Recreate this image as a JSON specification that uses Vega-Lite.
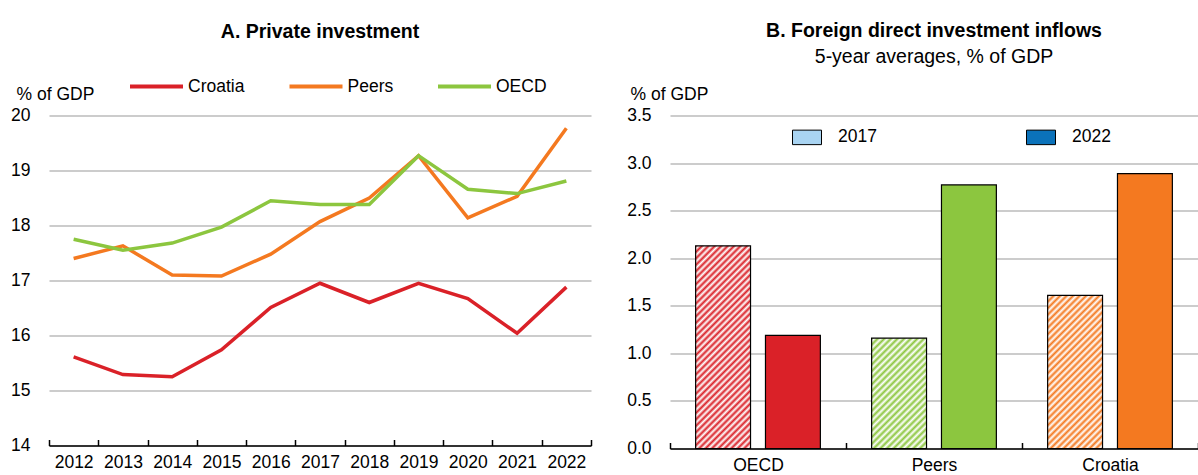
{
 "$schema": "https://vega.github.io/schema/vega-lite/v6.json",
 "padding": {"left": 10, "top": 20.5, "right": 0, "bottom": 0},
 "background": "#ffffff",
 "config": {
  "font": "Liberation Sans, Arial, sans-serif",
  "view": {"stroke": null},
  "axis": {"labelFontSize": 17.5, "labelColor": "#000000", "titleFontSize": 17.5, "titleFontWeight": "normal", "titleColor": "#000000", "gridColor": "#cccccc", "gridWidth": 2},
  "legend": {"labelFontSize": 17.5, "labelColor": "#000000", "padding": 0},
  "title": {"fontSize": 19.5, "fontWeight": "bold", "color": "#000000", "subtitleFontSize": 19.5, "subtitleColor": "#000000", "subtitleFontWeight": "normal", "anchor": "middle", "frame": "group"}
 },
 "resolve": {"scale": {"color": "independent"}, "legend": {"color": "independent"}},
 "bounds": "flush",
 "spacing": 79,
 "hconcat": [
  {
   "width": 542,
   "height": 330,
   "title": {"text": "A. Private investment", "offset": 16},
   "data": {"values": [
    {"year": 2012, "series": "Croatia", "value": 15.61},
    {"year": 2013, "series": "Croatia", "value": 15.29},
    {"year": 2014, "series": "Croatia", "value": 15.25},
    {"year": 2015, "series": "Croatia", "value": 15.74},
    {"year": 2016, "series": "Croatia", "value": 16.51},
    {"year": 2017, "series": "Croatia", "value": 16.95},
    {"year": 2018, "series": "Croatia", "value": 16.6},
    {"year": 2019, "series": "Croatia", "value": 16.95},
    {"year": 2020, "series": "Croatia", "value": 16.67},
    {"year": 2021, "series": "Croatia", "value": 16.04},
    {"year": 2022, "series": "Croatia", "value": 16.88},
    {"year": 2012, "series": "Peers", "value": 17.4},
    {"year": 2013, "series": "Peers", "value": 17.63},
    {"year": 2014, "series": "Peers", "value": 17.1},
    {"year": 2015, "series": "Peers", "value": 17.08},
    {"year": 2016, "series": "Peers", "value": 17.48},
    {"year": 2017, "series": "Peers", "value": 18.07},
    {"year": 2018, "series": "Peers", "value": 18.5},
    {"year": 2019, "series": "Peers", "value": 19.27},
    {"year": 2020, "series": "Peers", "value": 18.14},
    {"year": 2021, "series": "Peers", "value": 18.53},
    {"year": 2022, "series": "Peers", "value": 19.77},
    {"year": 2012, "series": "OECD", "value": 17.75},
    {"year": 2013, "series": "OECD", "value": 17.55},
    {"year": 2014, "series": "OECD", "value": 17.68},
    {"year": 2015, "series": "OECD", "value": 17.97},
    {"year": 2016, "series": "OECD", "value": 18.45},
    {"year": 2017, "series": "OECD", "value": 18.38},
    {"year": 2018, "series": "OECD", "value": 18.38},
    {"year": 2019, "series": "OECD", "value": 19.27},
    {"year": 2020, "series": "OECD", "value": 18.66},
    {"year": 2021, "series": "OECD", "value": 18.58},
    {"year": 2022, "series": "OECD", "value": 18.81}
   ]},
   "mark": {"type": "line", "strokeWidth": 3.5},
   "encoding": {
    "x": {"field": "year", "type": "ordinal", "scale": {"paddingInner": 0, "paddingOuter": 0},
     "axis": {"title": null, "tickBand": "extent", "labelAngle": 0, "labelOverlap": false, "grid": false, "domainColor": "#000000", "domainWidth": 1.5, "tickColor": "#000000", "tickWidth": 1.5, "tickSize": -6, "labelPadding": 14}},
    "y": {"field": "value", "type": "quantitative", "scale": {"domain": [14, 20], "nice": false, "zero": false},
     "axis": {"title": "% of GDP", "titleAngle": 0, "titleAlign": "left", "titleBaseline": "alphabetic", "titleX": -33, "titleY": -16, "values": [14, 15, 16, 17, 18, 19, 20], "domain": false, "ticks": false, "labelPadding": 19}},
    "color": {"field": "series", "type": "nominal", "sort": ["Croatia", "Peers", "OECD"],
     "scale": {"domain": ["Croatia", "Peers", "OECD"], "range": ["#DA2128", "#F47920", "#8CC63F"]},
     "legend": {"orient": "none", "legendX": 79, "legendY": -57.5, "direction": "horizontal", "title": null, "symbolType": "stroke", "symbolSize": 2809, "symbolStrokeWidth": 4, "labelOffset": 3, "columnPadding": 36.5}}
   }
  },
  {
   "width": 528,
   "height": 333,
   "title": {"text": "B. Foreign direct investment inflows", "subtitle": "5-year averages, % of GDP", "offset": 18, "subtitlePadding": 6.5},
   "data": {"values": [
    {"country": "OECD", "year": "2017", "value": 2.13},
    {"country": "OECD", "year": "2022", "value": 1.19},
    {"country": "Peers", "year": "2017", "value": 1.16},
    {"country": "Peers", "year": "2022", "value": 2.77},
    {"country": "Croatia", "year": "2017", "value": 1.61},
    {"country": "Croatia", "year": "2022", "value": 2.89}
   ]},
   "encoding": {
    "x": {"field": "country", "type": "nominal", "sort": ["OECD", "Peers", "Croatia"], "scale": {"domain": ["OECD", "Peers", "Croatia"], "paddingInner": 0, "paddingOuter": 0},
     "axis": {"title": null, "tickBand": "extent", "labelAngle": 0, "grid": false, "domainColor": "#000000", "domainWidth": 1.5, "tickColor": "#000000", "tickWidth": 1.5, "tickSize": -6, "labelPadding": 14}},
    "xOffset": {"field": "year", "type": "nominal", "sort": ["2017", "2022"], "scale": {"domain": ["2017", "2022"], "paddingInner": 0.214, "paddingOuter": 0.367}},
    "y": {"field": "value", "type": "quantitative", "scale": {"domain": [0, 3.5], "nice": false},
     "axis": {"title": "% of GDP", "titleAngle": 0, "titleAlign": "left", "titleBaseline": "alphabetic", "titleX": -40, "titleY": -16, "values": [0, 0.5, 1, 1.5, 2, 2.5, 3, 3.5], "format": ".1f", "domain": false, "ticks": false, "labelPadding": 19}}
   },
   "layer": [
    {
     "transform": [{"filter": "datum.year == '2022'"}],
     "mark": {"type": "bar", "stroke": "#000000", "strokeWidth": 1.2},
     "encoding": {"fill": {"field": "country", "type": "nominal", "scale": {"domain": ["OECD", "Peers", "Croatia"], "range": ["#DA2128", "#8CC63F", "#F47920"]}, "legend": null}}
    },
    {
     "transform": [{"filter": "datum.year == '2017' && datum.country == 'OECD'"}],
     "mark": {"type": "bar", "stroke": "#000000", "strokeWidth": 1.2, "fill": {"gradient": "linear", "x1": 0, "y1": 0, "x2": 0.3213, "y2": 1.1842, "stops": [
      {"offset": 0, "color": "#DA2128"}, {"offset": 0.0125, "color": "#ffffff"}, {"offset": 0.025, "color": "#DA2128"}, {"offset": 0.0375, "color": "#ffffff"},
      {"offset": 0.05, "color": "#DA2128"}, {"offset": 0.0625, "color": "#ffffff"}, {"offset": 0.075, "color": "#DA2128"}, {"offset": 0.0875, "color": "#ffffff"},
      {"offset": 0.1, "color": "#DA2128"}, {"offset": 0.1125, "color": "#ffffff"}, {"offset": 0.125, "color": "#DA2128"}, {"offset": 0.1375, "color": "#ffffff"},
      {"offset": 0.15, "color": "#DA2128"}, {"offset": 0.1625, "color": "#ffffff"}, {"offset": 0.175, "color": "#DA2128"}, {"offset": 0.1875, "color": "#ffffff"},
      {"offset": 0.2, "color": "#DA2128"}, {"offset": 0.2125, "color": "#ffffff"}, {"offset": 0.225, "color": "#DA2128"}, {"offset": 0.2375, "color": "#ffffff"},
      {"offset": 0.25, "color": "#DA2128"}, {"offset": 0.2625, "color": "#ffffff"}, {"offset": 0.275, "color": "#DA2128"}, {"offset": 0.2875, "color": "#ffffff"},
      {"offset": 0.3, "color": "#DA2128"}, {"offset": 0.3125, "color": "#ffffff"}, {"offset": 0.325, "color": "#DA2128"}, {"offset": 0.3375, "color": "#ffffff"},
      {"offset": 0.35, "color": "#DA2128"}, {"offset": 0.3625, "color": "#ffffff"}, {"offset": 0.375, "color": "#DA2128"}, {"offset": 0.3875, "color": "#ffffff"},
      {"offset": 0.4, "color": "#DA2128"}, {"offset": 0.4125, "color": "#ffffff"}, {"offset": 0.425, "color": "#DA2128"}, {"offset": 0.4375, "color": "#ffffff"},
      {"offset": 0.45, "color": "#DA2128"}, {"offset": 0.4625, "color": "#ffffff"}, {"offset": 0.475, "color": "#DA2128"}, {"offset": 0.4875, "color": "#ffffff"},
      {"offset": 0.5, "color": "#DA2128"}, {"offset": 0.5125, "color": "#ffffff"}, {"offset": 0.525, "color": "#DA2128"}, {"offset": 0.5375, "color": "#ffffff"},
      {"offset": 0.55, "color": "#DA2128"}, {"offset": 0.5625, "color": "#ffffff"}, {"offset": 0.575, "color": "#DA2128"}, {"offset": 0.5875, "color": "#ffffff"},
      {"offset": 0.6, "color": "#DA2128"}, {"offset": 0.6125, "color": "#ffffff"}, {"offset": 0.625, "color": "#DA2128"}, {"offset": 0.6375, "color": "#ffffff"},
      {"offset": 0.65, "color": "#DA2128"}, {"offset": 0.6625, "color": "#ffffff"}, {"offset": 0.675, "color": "#DA2128"}, {"offset": 0.6875, "color": "#ffffff"},
      {"offset": 0.7, "color": "#DA2128"}, {"offset": 0.7125, "color": "#ffffff"}, {"offset": 0.725, "color": "#DA2128"}, {"offset": 0.7375, "color": "#ffffff"},
      {"offset": 0.75, "color": "#DA2128"}, {"offset": 0.7625, "color": "#ffffff"}, {"offset": 0.775, "color": "#DA2128"}, {"offset": 0.7875, "color": "#ffffff"},
      {"offset": 0.8, "color": "#DA2128"}, {"offset": 0.8125, "color": "#ffffff"}, {"offset": 0.825, "color": "#DA2128"}, {"offset": 0.8375, "color": "#ffffff"},
      {"offset": 0.85, "color": "#DA2128"}, {"offset": 0.8625, "color": "#ffffff"}, {"offset": 0.875, "color": "#DA2128"}, {"offset": 0.8875, "color": "#ffffff"},
      {"offset": 0.9, "color": "#DA2128"}, {"offset": 0.9125, "color": "#ffffff"}, {"offset": 0.925, "color": "#DA2128"}, {"offset": 0.9375, "color": "#ffffff"},
      {"offset": 0.95, "color": "#DA2128"}, {"offset": 0.9625, "color": "#ffffff"}, {"offset": 0.975, "color": "#DA2128"}, {"offset": 0.9875, "color": "#ffffff"},
      {"offset": 1, "color": "#DA2128"}
     ]}}
    },
    {
     "transform": [{"filter": "datum.year == '2017' && datum.country == 'Peers'"}],
     "mark": {"type": "bar", "stroke": "#000000", "strokeWidth": 1.2, "fill": {"gradient": "linear", "x1": 0, "y1": 0, "x2": 0.598, "y2": 1.2003, "stops": [
      {"offset": 0, "color": "#8CC63F"}, {"offset": 0.02, "color": "#ffffff"}, {"offset": 0.04, "color": "#8CC63F"}, {"offset": 0.06, "color": "#ffffff"},
      {"offset": 0.08, "color": "#8CC63F"}, {"offset": 0.1, "color": "#ffffff"}, {"offset": 0.12, "color": "#8CC63F"}, {"offset": 0.14, "color": "#ffffff"},
      {"offset": 0.16, "color": "#8CC63F"}, {"offset": 0.18, "color": "#ffffff"}, {"offset": 0.2, "color": "#8CC63F"}, {"offset": 0.22, "color": "#ffffff"},
      {"offset": 0.24, "color": "#8CC63F"}, {"offset": 0.26, "color": "#ffffff"}, {"offset": 0.28, "color": "#8CC63F"}, {"offset": 0.3, "color": "#ffffff"},
      {"offset": 0.32, "color": "#8CC63F"}, {"offset": 0.34, "color": "#ffffff"}, {"offset": 0.36, "color": "#8CC63F"}, {"offset": 0.38, "color": "#ffffff"},
      {"offset": 0.4, "color": "#8CC63F"}, {"offset": 0.42, "color": "#ffffff"}, {"offset": 0.44, "color": "#8CC63F"}, {"offset": 0.46, "color": "#ffffff"},
      {"offset": 0.48, "color": "#8CC63F"}, {"offset": 0.5, "color": "#ffffff"}, {"offset": 0.52, "color": "#8CC63F"}, {"offset": 0.54, "color": "#ffffff"},
      {"offset": 0.56, "color": "#8CC63F"}, {"offset": 0.58, "color": "#ffffff"}, {"offset": 0.6, "color": "#8CC63F"}, {"offset": 0.62, "color": "#ffffff"},
      {"offset": 0.64, "color": "#8CC63F"}, {"offset": 0.66, "color": "#ffffff"}, {"offset": 0.68, "color": "#8CC63F"}, {"offset": 0.7, "color": "#ffffff"},
      {"offset": 0.72, "color": "#8CC63F"}, {"offset": 0.74, "color": "#ffffff"}, {"offset": 0.76, "color": "#8CC63F"}, {"offset": 0.78, "color": "#ffffff"},
      {"offset": 0.8, "color": "#8CC63F"}, {"offset": 0.82, "color": "#ffffff"}, {"offset": 0.84, "color": "#8CC63F"}, {"offset": 0.86, "color": "#ffffff"},
      {"offset": 0.88, "color": "#8CC63F"}, {"offset": 0.9, "color": "#ffffff"}, {"offset": 0.92, "color": "#8CC63F"}, {"offset": 0.94, "color": "#ffffff"},
      {"offset": 0.96, "color": "#8CC63F"}, {"offset": 0.98, "color": "#ffffff"}, {"offset": 1, "color": "#8CC63F"}
     ]}}
    },
    {
     "transform": [{"filter": "datum.year == '2017' && datum.country == 'Croatia'"}],
     "mark": {"type": "bar", "stroke": "#000000", "strokeWidth": 1.2, "fill": {"gradient": "linear", "x1": 0, "y1": 0, "x2": 0.4322, "y2": 1.2039, "stops": [
      {"offset": 0, "color": "#F47920"}, {"offset": 0.015625, "color": "#ffffff"}, {"offset": 0.03125, "color": "#F47920"}, {"offset": 0.046875, "color": "#ffffff"},
      {"offset": 0.0625, "color": "#F47920"}, {"offset": 0.078125, "color": "#ffffff"}, {"offset": 0.09375, "color": "#F47920"}, {"offset": 0.109375, "color": "#ffffff"},
      {"offset": 0.125, "color": "#F47920"}, {"offset": 0.140625, "color": "#ffffff"}, {"offset": 0.15625, "color": "#F47920"}, {"offset": 0.171875, "color": "#ffffff"},
      {"offset": 0.1875, "color": "#F47920"}, {"offset": 0.203125, "color": "#ffffff"}, {"offset": 0.21875, "color": "#F47920"}, {"offset": 0.234375, "color": "#ffffff"},
      {"offset": 0.25, "color": "#F47920"}, {"offset": 0.265625, "color": "#ffffff"}, {"offset": 0.28125, "color": "#F47920"}, {"offset": 0.296875, "color": "#ffffff"},
      {"offset": 0.3125, "color": "#F47920"}, {"offset": 0.328125, "color": "#ffffff"}, {"offset": 0.34375, "color": "#F47920"}, {"offset": 0.359375, "color": "#ffffff"},
      {"offset": 0.375, "color": "#F47920"}, {"offset": 0.390625, "color": "#ffffff"}, {"offset": 0.40625, "color": "#F47920"}, {"offset": 0.421875, "color": "#ffffff"},
      {"offset": 0.4375, "color": "#F47920"}, {"offset": 0.453125, "color": "#ffffff"}, {"offset": 0.46875, "color": "#F47920"}, {"offset": 0.484375, "color": "#ffffff"},
      {"offset": 0.5, "color": "#F47920"}, {"offset": 0.515625, "color": "#ffffff"}, {"offset": 0.53125, "color": "#F47920"}, {"offset": 0.546875, "color": "#ffffff"},
      {"offset": 0.5625, "color": "#F47920"}, {"offset": 0.578125, "color": "#ffffff"}, {"offset": 0.59375, "color": "#F47920"}, {"offset": 0.609375, "color": "#ffffff"},
      {"offset": 0.625, "color": "#F47920"}, {"offset": 0.640625, "color": "#ffffff"}, {"offset": 0.65625, "color": "#F47920"}, {"offset": 0.671875, "color": "#ffffff"},
      {"offset": 0.6875, "color": "#F47920"}, {"offset": 0.703125, "color": "#ffffff"}, {"offset": 0.71875, "color": "#F47920"}, {"offset": 0.734375, "color": "#ffffff"},
      {"offset": 0.75, "color": "#F47920"}, {"offset": 0.765625, "color": "#ffffff"}, {"offset": 0.78125, "color": "#F47920"}, {"offset": 0.796875, "color": "#ffffff"},
      {"offset": 0.8125, "color": "#F47920"}, {"offset": 0.828125, "color": "#ffffff"}, {"offset": 0.84375, "color": "#F47920"}, {"offset": 0.859375, "color": "#ffffff"},
      {"offset": 0.875, "color": "#F47920"}, {"offset": 0.890625, "color": "#ffffff"}, {"offset": 0.90625, "color": "#F47920"}, {"offset": 0.921875, "color": "#ffffff"},
      {"offset": 0.9375, "color": "#F47920"}, {"offset": 0.953125, "color": "#ffffff"}, {"offset": 0.96875, "color": "#F47920"}, {"offset": 0.984375, "color": "#ffffff"},
      {"offset": 1, "color": "#F47920"}
     ]}}
    },
    {
     "data": {"values": [
      {"country": "OECD", "year": "2017", "value": 0},
      {"country": "OECD", "year": "2022", "value": 0}
     ]},
     "mark": {"type": "bar", "strokeWidth": 0},
     "encoding": {
      "color": {"field": "year", "type": "nominal", "scale": {"domain": ["2017", "2022"], "range": ["#a9d4f2", "#0B72BA"]},
       "legend": {"orient": "none", "legendX": 122, "legendY": 6.5, "direction": "horizontal", "title": null, "symbolType": "M-1,-0.5H1V0.5H-1Z", "symbolSize": 841, "symbolStrokeColor": "#000000", "symbolStrokeWidth": 1, "labelOffset": 16, "columnPadding": 147}
      }
     }
    }
   ]
  }
 ]
}
